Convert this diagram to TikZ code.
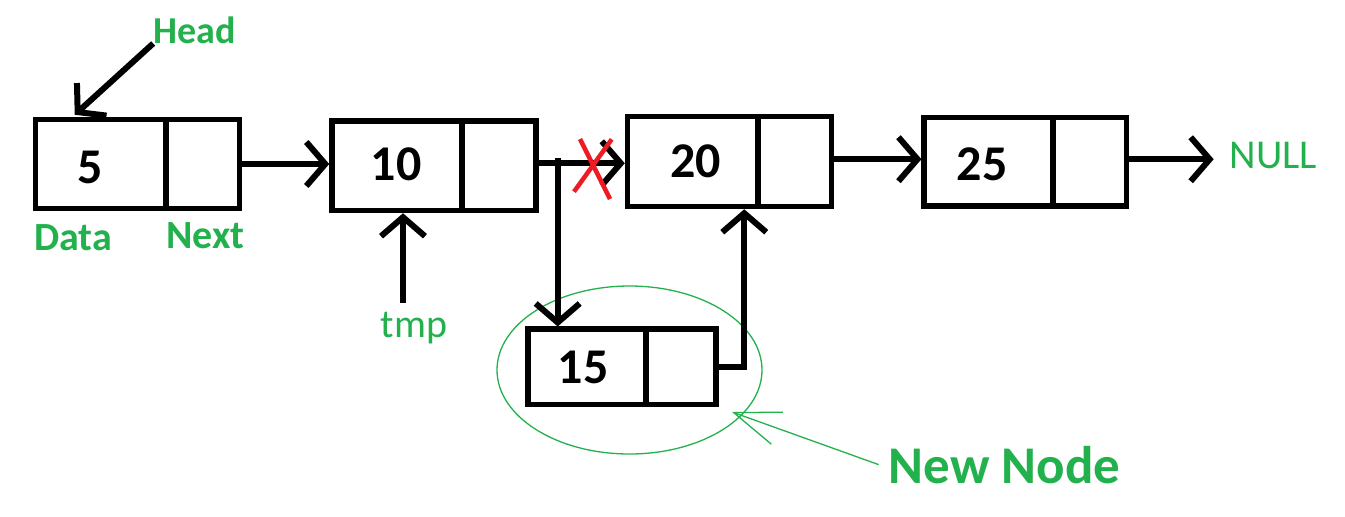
\documentclass[tikz,border=0pt]{standalone}
\usepackage{fontspec}
\setmainfont{Carlito}
\usetikzlibrary{arrows.meta,calc,shapes.geometric}
\definecolor{pgreen}{RGB}{34,177,76}
\definecolor{pred}{RGB}{237,28,36}
\begin{document}
\begin{tikzpicture}[x=1pt,y=-1pt,
  cell/.style={draw, line width=5.5pt, inner sep=0pt},
  digit/.style={anchor=base, inner sep=0pt, font=\fontsize{50pt}{60pt}\selectfont\bfseries},
  lbl/.style={anchor=base, inner sep=0pt, text=pgreen, font=\fontsize{40pt}{48pt}\selectfont\bfseries},
  arr/.style={line width=6pt, -{Straight Barb[length=19pt,width=44pt]}},
  garr/.style={draw=pgreen, line width=1.3pt, -{Straight Barb[length=46pt,width=34pt]}},
  xmark/.style={draw=pred, line width=4.5pt}
]
\useasboundingbox (0,0) rectangle (1345,517);

% ellipse around the new node
\node[ellipse, draw=pgreen, line width=1.3pt, minimum width=265pt, minimum height=168pt, inner sep=0pt] (ring) at (629.5,370) {};

% list cells
\node[cell, minimum width=130.5pt, minimum height=89pt] (d5) at (100.75,164) {};
\node[cell, minimum width=73.5pt, minimum height=89pt] (n5) at (202.75,164) {};
\node[cell, minimum width=130pt, minimum height=89.5pt] (d10) at (397,165.75) {};
\node[cell, minimum width=73.8pt, minimum height=89.5pt] (n10) at (498.9,165.75) {};
\node[cell, minimum width=130.5pt, minimum height=90pt] (d20) at (692.75,161.5) {};
\node[cell, minimum width=73.5pt, minimum height=90pt] (n20) at (794.75,161.5) {};
\node[cell, minimum width=128.8pt, minimum height=88.7pt] (d25) at (988.6,161.85) {};
\node[cell, minimum width=73.7pt, minimum height=88.7pt] (n25) at (1089.85,161.85) {};
\node[cell, minimum width=117.6pt, minimum height=75.3pt] (d15) at (587,366.85) {};
\node[cell, minimum width=70.2pt, minimum height=75.3pt] (n15) at (680.9,366.85) {};

% data values
\node[digit] (t5) at (90.5,183) {5};
\node[digit] (t10) at (396,180) {10};
\node[digit] (t20) at (695.5,177) {20};
\node[digit] (t25) at (982,180) {25};
\node[digit] (t15) at (583,383) {15};

% labels
\node[lbl, font=\fontsize{38pt}{46pt}\selectfont\bfseries] (head) at (194.5,43) {Head};
\node[lbl] (data) at (73,250) {Data};
\node[lbl] (next) at (205.5,248) {Next};
\node[lbl, font=\fontsize{40pt}{48pt}\selectfont] (tmp) at (414,337) {tmp};
\node[lbl, font=\fontsize{41pt}{49pt}\selectfont, inner xsep=16pt] (null) at (1273.5,168) {NULL};
\node[lbl, font=\fontsize{53pt}{64pt}\selectfont\bfseries, inner xsep=10pt] (newnode) at (1004.5,483) {New Node};

% connectors
\draw[arr] (head.south west) -- ($(d5.north west)+(42,-2)$);
\draw[arr] (n5.east) -- (n5.east -| d10.west);
\draw[arr] ($(n10.east)+(0,-2.5)$) -- ($(n10.east -| d20.west)+(0,-2.5)$);
\coordinate (split) at (557.7,158);
\draw[arr] (split) -- (split |- d15.north);
\draw[arr] ($(n20.east)+(0,-2.3)$) -- ($(n20.east -| d25.west)+(0,-2.3)$);
\draw[arr] ($(n25.east)+(0,-2.6)$) -- ($(n25.east -| null.west)+(0,-2.6)$);
\coordinate (tmptop) at ($(tmp.north)+(-11,-9)$);
\draw[arr] (tmptop) -- (tmptop |- d10.south);
\draw[arr] (n15.east) -| ($(d20.south east)+(-16.5,0)$);

% broken link mark
\draw[xmark] (580,139) -- (610,199);
\draw[xmark] (611.7,139.3) -- (574,191.7);

% pointer to the new node
\coordinate (ringtip) at (732,412);
\draw[garr] (newnode.west) -- (ringtip);
\end{tikzpicture}
\end{document}
